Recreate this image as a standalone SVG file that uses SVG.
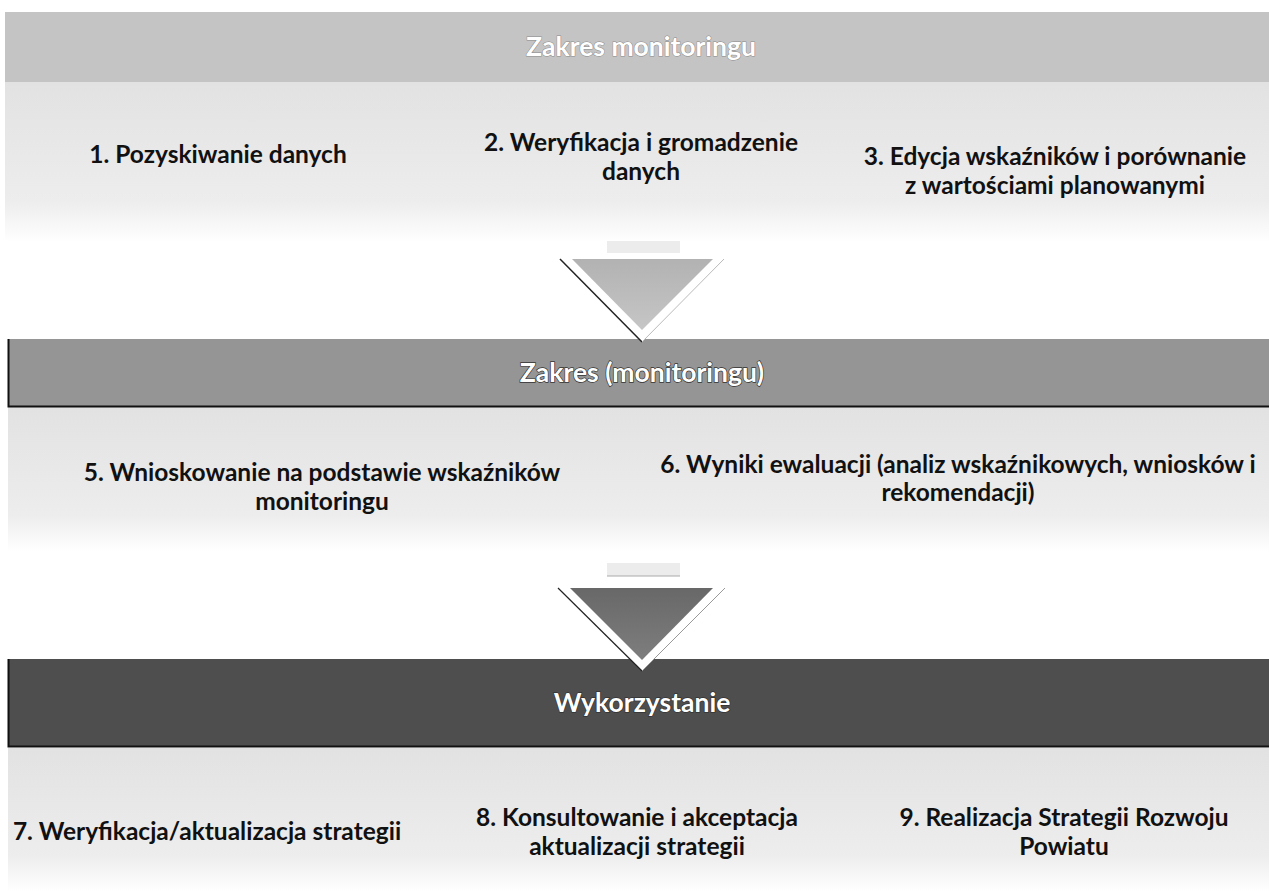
<svg xmlns="http://www.w3.org/2000/svg" width="1269" height="891" viewBox="0 0 1269 891">
  <defs>
    <style>
      .lbl { font-family: Lato, "Open Sans", "Liberation Sans", sans-serif; font-weight: bold; font-size: 24.5px; fill: #111; text-anchor: middle; }
      .ttl { font-family: Lato, "Open Sans", "Liberation Sans", sans-serif; font-weight: bold; font-size: 26.5px; fill: #fff; text-anchor: middle; stroke: #333; stroke-width: 1.4px; paint-order: stroke; }
      .bg { fill: url(#fade); }
      .stub { fill: #ececec; }
    </style>
    <linearGradient id="fade" x1="0" y1="0" x2="0" y2="1">
      <stop offset="0" stop-color="#e2e2e2"/>
      <stop offset="0.75" stop-color="#ededed"/>
      <stop offset="1" stop-color="#ffffff"/>
    </linearGradient>
    <linearGradient id="tri1" x1="0" y1="0" x2="0" y2="1">
      <stop offset="0" stop-color="#b2b2b2"/>
      <stop offset="1" stop-color="#c6c6c6"/>
    </linearGradient>
    <linearGradient id="tri2" x1="0" y1="0" x2="0" y2="1">
      <stop offset="0" stop-color="#686868"/>
      <stop offset="1" stop-color="#7e7e7e"/>
    </linearGradient>
  </defs>
  <rect width="1269" height="891" fill="#ffffff"/>

  <!-- Stage 1 -->
  <g id="stage1">
    <rect class="bg" x="5" y="82" width="1264" height="160"/>
    <rect x="5" y="12" width="1264" height="70" fill="#c4c4c4"/>
    <text class="ttl" x="641" y="56" style="stroke:#8a8a8a;stroke-width:1px">Zakres monitoringu</text>
  </g>
  <g id="n1"><text class="lbl" x="218" y="163">1. Pozyskiwanie danych</text></g>
  <g id="n2"><text class="lbl" x="641" y="151">2. Weryfikacja i gromadzenie</text><text class="lbl" x="641" y="180">danych</text></g>
  <g id="n3"><text class="lbl" x="1055" y="165">3. Edycja wskaźników i porównanie</text><text class="lbl" x="1055" y="194">z wartościami planowanymi</text></g>

  <!-- Stage 2 -->
  <g id="stage2">
    <rect class="bg" x="8" y="407" width="1261" height="145"/>
    <rect x="8" y="339" width="1261" height="68" fill="#959595"/>
    <path d="M8.5 339 V406.5 H1269" fill="none" stroke="#111" stroke-width="2"/>
    <text class="ttl" x="642" y="382">Zakres (monitoringu)</text>
  </g>
  <g id="n5"><text class="lbl" x="322" y="481">5. Wnioskowanie na podstawie wskaźników</text><text class="lbl" x="322" y="510">monitoringu</text></g>
  <g id="n6"><text class="lbl" x="958" y="473">6. Wyniki ewaluacji (analiz wskaźnikowych, wniosków i</text><text class="lbl" x="958" y="501">rekomendacji)</text></g>

  <!-- Stage 3 -->
  <g id="stage3">
    <rect class="bg" x="8" y="748" width="1261" height="143"/>
    <rect x="8" y="659" width="1261" height="88" fill="#4e4e4e"/>
    <path d="M8.5 659 V746.5 H1269" fill="none" stroke="#111" stroke-width="2"/>
    <text class="ttl" x="642" y="712">Wykorzystanie</text>
  </g>
  <g id="n7"><text class="lbl" x="207" y="840">7. Weryfikacja/aktualizacja strategii</text></g>
  <g id="n8"><text class="lbl" x="637" y="826">8. Konsultowanie i akceptacja</text><text class="lbl" x="637" y="855">aktualizacji strategii</text></g>
  <g id="n9"><text class="lbl" x="1064" y="826">9. Realizacja Strategii Rozwoju</text><text class="lbl" x="1064" y="855">Powiatu</text></g>

  <!-- Connectors (down arrows) -->
  <g id="connectors">
    <g id="arrow1">
      <rect class="stub" x="607" y="241" width="73" height="12"/>
      <polygon points="560,259 724,259 642,342" fill="#ffffff"/>
      <line x1="560" y1="259" x2="642" y2="342" stroke="#222" stroke-width="1.5"/>
      <line x1="724" y1="259" x2="642" y2="342" stroke="#bbb" stroke-width="1"/>
      <polygon points="572,259 713,259 642,330" fill="url(#tri1)"/>
    </g>
    <g id="arrow2">
      <rect class="stub" x="607" y="563" width="73" height="13"/>
      <line x1="607" y1="576" x2="680" y2="576" stroke="#aaa" stroke-width="1"/>
      <polygon points="558,588 725,588 642,671" fill="#ffffff"/>
      <line x1="558" y1="588" x2="642" y2="671" stroke="#222" stroke-width="1.2"/>
      <line x1="725" y1="588" x2="642" y2="671" stroke="#999" stroke-width="1"/>
      <polygon points="570,588 713,588 642,660" fill="url(#tri2)"/>
    </g>
  </g>
</svg>
